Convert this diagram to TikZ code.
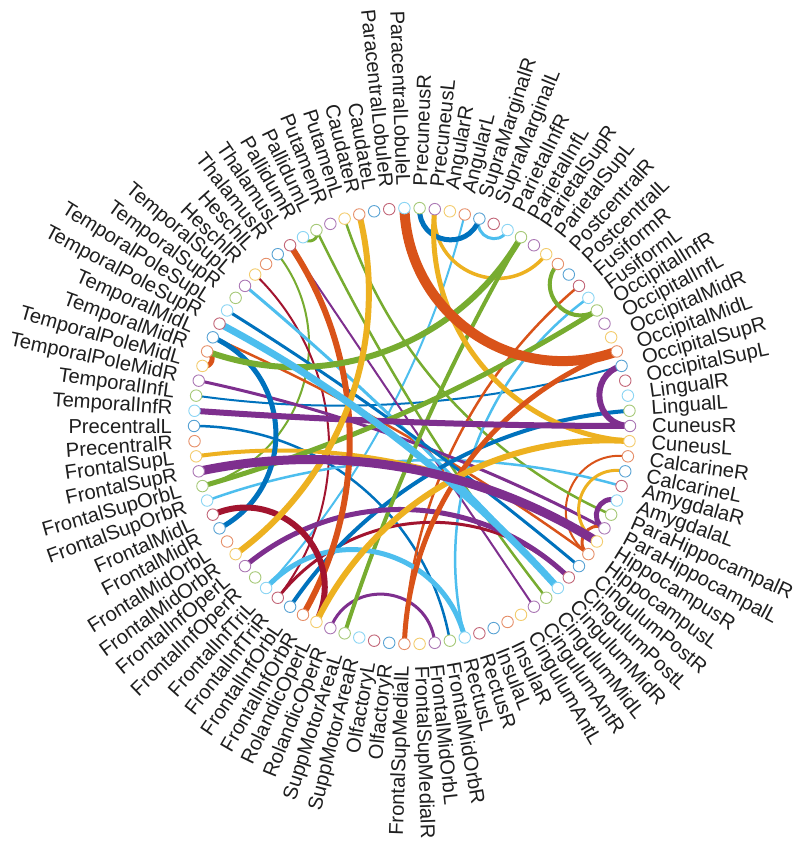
\documentclass[tikz,border=0pt]{standalone}
\usepackage{fontspec}
\setmainfont{Liberation Sans}
\definecolor{c0}{rgb}{0,0.447,0.741}
\definecolor{c1}{rgb}{0.850,0.325,0.098}
\definecolor{c2}{rgb}{0.929,0.694,0.125}
\definecolor{c3}{rgb}{0.494,0.184,0.556}
\definecolor{c4}{rgb}{0.466,0.674,0.188}
\definecolor{c5}{rgb}{0.301,0.745,0.933}
\definecolor{c6}{rgb}{0.635,0.078,0.184}
\newcommand{\chord}[3]{%
  \pgfmathtruncatemacro{\chMin}{min(#1,#2)}%
  \pgfmathtruncatemacro{\chK}{mod(\chMin-1,7)}%
  \pgfmathsetmacro{\chA}{180+4*(#1-1)}%
  \pgfmathsetmacro{\chB}{180+4*(#2-1)}%
  \pgfmathsetmacro{\chDD}{abs(\chA-\chB)}%
  \pgfmathsetmacro{\chDe}{\chDD>180 ? 360-\chDD : \chDD}%
  \pgfmathsetmacro{\chDf}{min(\chDe,179.5)}%
  \pgfmathsetmacro{\chC}{4/3*tan((180-\chDf)/4)*\RR*tan(\chDf/2)}%
  \draw[line width=#3pt, c\chK] (p#1) .. controls +(\chA+180:\chC) and +(\chB+180:\chC) .. (p#2);%
}
\begin{document}
\begin{tikzpicture}[x=1pt,y=1pt,
  ringnode/.style={circle, fill=white, line width=0.9pt, minimum size=11.5pt, inner sep=0pt},
  lab/.style={font=\fontsize{20.2}{21}\selectfont, inner sep=0pt, text=black!88}]
\useasboundingbox (0,0) rectangle (800,845);
\fill[white] (0,0) rectangle (800,845);
\begin{scope}[shift={(412,419)}]
\def\RR{218}
\foreach \i in {1,...,90}{
  \pgfmathsetmacro{\th}{180+4*(\i-1)}
  \coordinate (p\i) at (\th:\RR);
}
% thin chords
\chord{65}{13}{2}
\chord{78}{5}{2}
\chord{80}{14}{2}
\chord{89}{50}{2}
\chord{32}{77}{2}
\chord{37}{44}{2}
\chord{73}{40}{2.5}
\chord{85}{37}{2.5}
\chord{1}{26}{2.5}
\chord{6}{42}{2.5}
\chord{23}{56}{2.5}
\chord{27}{55}{2.5}
\chord{33}{75}{2.5}
\chord{64}{62}{3}
\chord{75}{76}{3}
\chord{81}{34}{3}
\chord{88}{39}{3}
\chord{14}{35}{3}
\chord{18}{25}{3}
\chord{36}{83}{3}
\chord{37}{39}{3}
\chord{38}{43}{3}
\chord{67}{59}{3.5}
\chord{3}{38}{4}
\chord{15}{47}{4}
\chord{19}{61}{4}
\chord{54}{58}{4}
\chord{68}{64}{5}
\chord{67}{45}{5}
\chord{86}{87}{5}
\chord{5}{54}{5}
\chord{8}{85}{5}
\chord{11}{35}{5}
\chord{13}{27}{5}
\chord{23}{51}{5}
\chord{39}{41}{5}
\chord{77}{16}{6}
\chord{86}{61}{6}
\chord{90}{46}{6}
\chord{7}{17}{6}
\chord{10}{72}{6}
\chord{17}{45}{6}
\chord{46}{50}{6}
\chord{84}{34}{7}
\chord{4}{38}{9}
\chord{69}{51}{10}
% ring nodes and labels
\foreach \nm [count=\i] in {PrecentralL, PrecentralR, FrontalSupL, FrontalSupR, FrontalSupOrbL, FrontalSupOrbR, FrontalMidL, FrontalMidR, FrontalMidOrbL, FrontalMidOrbR, FrontalInfOperL, FrontalInfOperR, FrontalInfTriL, FrontalInfTriR, FrontalInfOrbL, FrontalInfOrbR, RolandicOperL, RolandicOperR, SuppMotorAreaL, SuppMotorAreaR, OlfactoryL, OlfactoryR, FrontalSupMedialL, FrontalSupMedialR, FrontalMidOrbL, FrontalMidOrbR, RectusL, RectusR, InsulaL, InsulaR, CingulumAntL, CingulumAntR, CingulumMidL, CingulumMidR, CingulumPostL, CingulumPostR, HippocampusL, HippocampusR, ParaHippocampalL, ParaHippocampalR, AmygdalaL, AmygdalaR, CalcarineL, CalcarineR, CuneusL, CuneusR, LingualL, LingualR, OccipitalSupL, OccipitalSupR, OccipitalMidL, OccipitalMidR, OccipitalInfL, OccipitalInfR, FusiformL, FusiformR, PostcentralL, PostcentralR, ParietalSupL, ParietalSupR, ParietalInfL, ParietalInfR, SupraMarginalL, SupraMarginalR, AngularL, AngularR, PrecuneusL, PrecuneusR, ParacentralLobuleL, ParacentralLobuleR, CaudateL, CaudateR, PutamenL, PutamenR, PallidumL, PallidumR, ThalamusL, ThalamusR, HeschlL, HeschlR, TemporalSupL, TemporalSupR, TemporalPoleSupL, TemporalPoleSupR, TemporalMidL, TemporalMidR, TemporalPoleMidL, TemporalPoleMidR, TemporalInfL, TemporalInfR}{
  \pgfmathsetmacro{\th}{mod(180+4*(\i-1),360)}
  \pgfmathtruncatemacro{\ci}{mod(\i-1,7)}
  \node[ringnode, draw=c\ci!65] (n\i) at (\th:\RR) {};
  \pgfmathsetmacro{\cs}{cos(\th)}
  \ifdim \cs pt > 0pt
    \node[lab, anchor=west, rotate=\th] (t\i) at (\th:240) {\nm};
  \else
    \node[lab, anchor=east, rotate=\th-180] (t\i) at (\th:240) {\nm};
  \fi
}
\end{scope}
\end{tikzpicture}
\end{document}
